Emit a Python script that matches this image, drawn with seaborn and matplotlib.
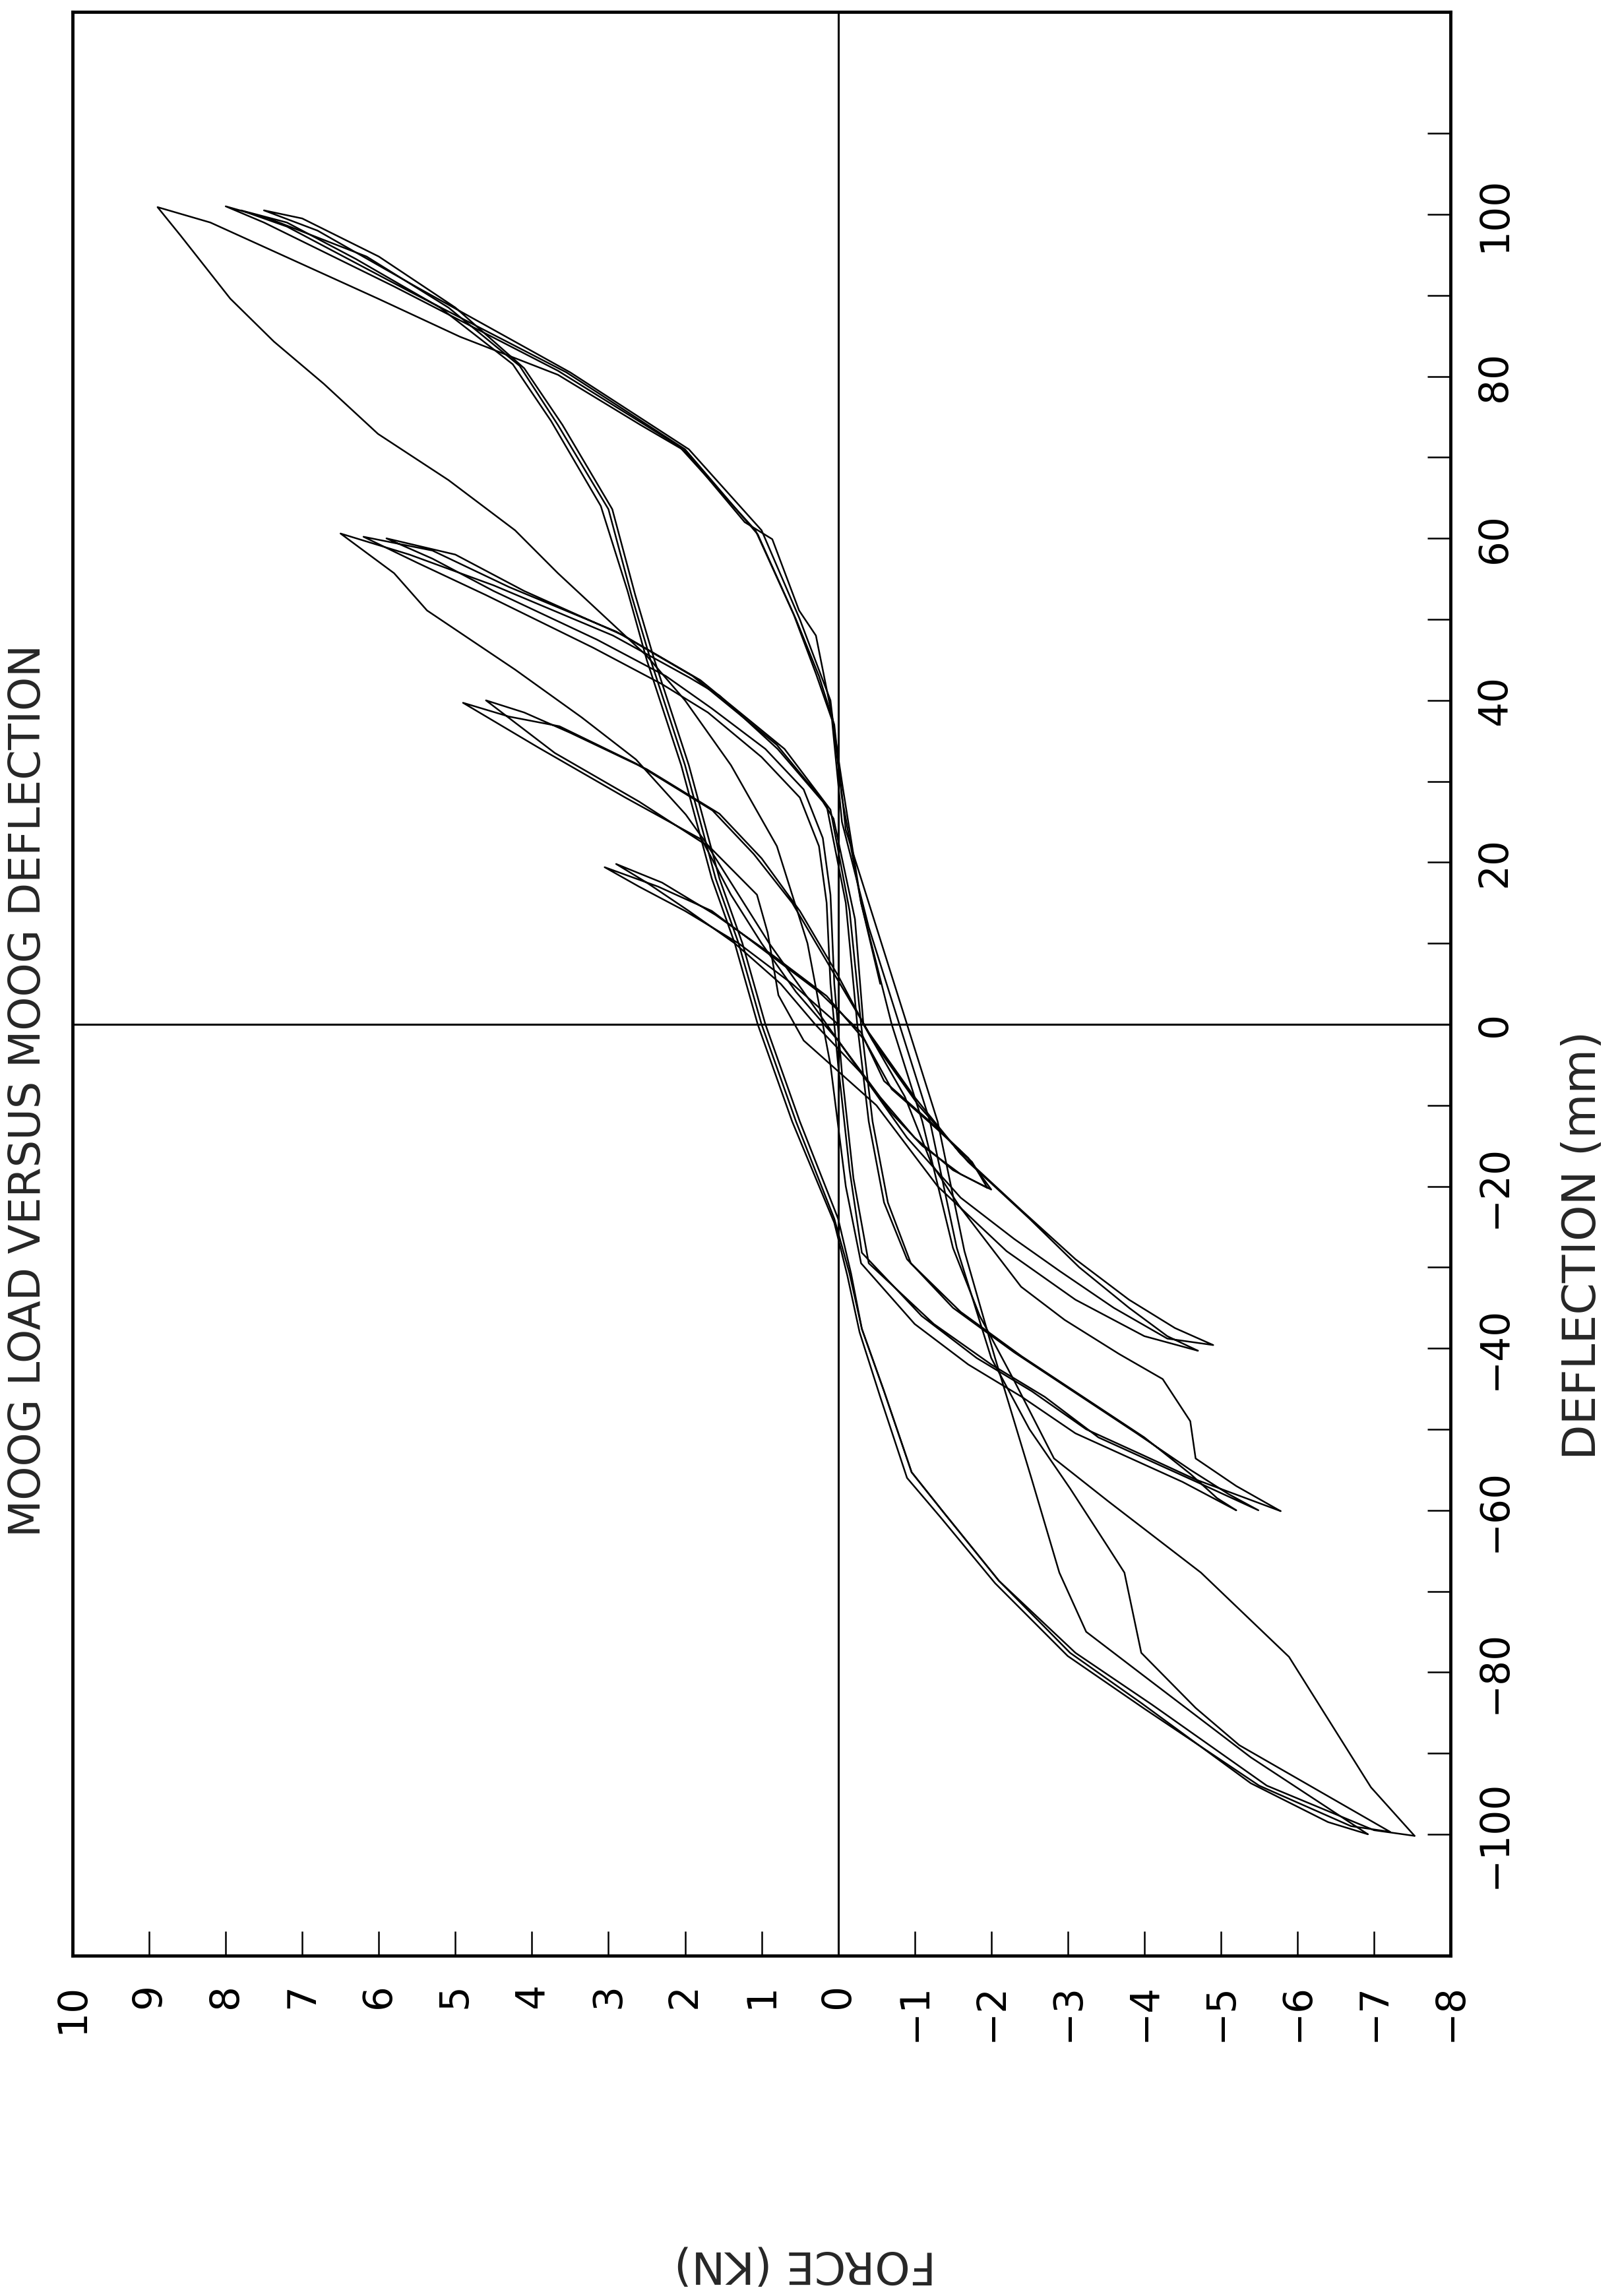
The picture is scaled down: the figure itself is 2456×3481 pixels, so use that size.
import pandas as pd
import matplotlib
import matplotlib.pyplot as plt
import seaborn as sns

matplotlib.use('Agg')

# Moog load vs deflection (deflection in mm, force in kN)
# +/-20 mm cycles
cyc20_defl = [0, 5, 10, 14, 17, 19.4, 17, 14, 9, 4, -1, -7, -12, -16.5, -20.4,
              -18.5, -15, -11, -6, 0, 5, 10, 14, 17.5, 19.8,
              17.5, 13.5, 8.5, 3.5, -2, -8, -13, -17, -20.2]
cyc20_force = [0.0, 0.6, 1.3, 2.0, 2.6, 3.05, 2.35, 1.65, 0.95, 0.25, -0.3, -0.6, -1.2, -1.7, -2.0,
               -1.6, -1.1, -0.7, -0.3, 0.3, 0.75, 1.35, 1.95, 2.5, 2.9,
               2.3, 1.6, 0.85, 0.15, -0.35, -0.7, -1.3, -1.75, -1.95]

# +/-40 mm cycles
cyc40_defl = [-20.2, -18, -14, -9, -2, 4, 10, 16, 22.8, 28, 34.2, 39.7,
              38, 36.8, 32.2, 26.4, 21, 15, 7, -1, -9, -16, -23, -29, -34, -37.5, -39.6,
              -38.8, -35, -30.5, -26.5, -21.4, -14, -6, 2, 10, 16, 22, 27.5, 33.5, 40.0,
              38.5, 36, 31.5, 26, 20.5, 14, 6, -2, -10, -17, -24, -30, -35, -38.5, -40.3]
cyc40_force = [-1.95, -1.5, -1.0, -0.55, 0.0, 0.55, 1.0, 1.4, 1.78, 2.78, 3.92, 4.9,
               4.3, 3.64, 2.64, 1.64, 1.1, 0.6, 0.1, -0.4, -1.0, -1.6, -2.4, -3.1, -3.8, -4.4, -4.9,
               -4.3, -3.6, -2.9, -2.3, -1.6, -0.9, -0.3, 0.3, 0.9, 1.3, 1.7, 2.6, 3.7, 4.6,
               4.1, 3.5, 2.5, 1.55, 1.0, 0.5, 0.0, -0.45, -1.05, -1.7, -2.5, -3.15, -3.8, -4.3, -4.7]

# first excursion to +/-60 mm
cyc60v_defl = [-40.3, -38.5, -34, -28, -20, -10, -2, 3.6, 11.3, 16, 22.2, 25.9, 32.7, 37.9,
               43.8, 51.1, 55.7, 60.6,
               58, 54.2, 48, 42.8, 40.6, 34, 27.5, 25.4, 13, 0, -8.9, -17.2, -22.4, -32.4,
               -36.5, -40.7, -43.8, -49, -53.6, -57, -60.1]
cyc60v_force = [-4.7, -4.0, -3.1, -2.2, -1.3, -0.5, 0.45, 0.78, 0.92, 1.06, 1.71, 1.99, 2.64, 3.35,
                4.22, 5.37, 5.8, 6.5,
                5.6, 4.5, 2.94, 1.94, 1.55, 0.79, 0.2, 0.06, -0.22, -0.33, -0.87, -1.22, -1.58, -2.39,
                -2.96, -3.67, -4.24, -4.6, -4.67, -5.2, -5.78]

# repeated +/-60 mm cycles
cyc60_defl = [-60.1, -56.2, -53.1, -50, -45.3, -41.2, -36, -28.2, -18, -5, 5, 15, 22, 28, 33,
              38.5, 42, 46.5, 53, 57, 60.2,
              58.5, 54, 48.5, 43, 34.5, 27, 15, 0, -12, -22, -29, -35, -40.5, -45.5, -50.5,
              -55, -58, -60,
              -57, -54, -51, -46, -42, -37, -29.5, -19, -6, 5, 16, 23, 29, 34, 39, 43, 47.5,
              53.5, 57.5, 60,
              58, 53.5, 48, 42.5, 34, 26.5, 14, 0, -12, -22, -29.5, -35.5, -41, -46, -51,
              -55.5, -58.5, -60]
cyc60_force = [-5.78, -4.67, -3.96, -3.24, -2.53, -1.81, -1.09, -0.31, -0.15, 0.0, 0.1, 0.15, 0.25,
               0.5, 1.0, 1.7, 2.3, 3.2, 4.6, 5.5, 6.2,
               5.3, 4.3, 2.9, 1.9, 0.8, 0.15, -0.1, -0.25, -0.4, -0.6, -0.9, -1.5, -2.3, -3.1, -3.9,
               -4.6, -5.1, -5.49,
               -4.8, -4.1, -3.4, -2.7, -2.0, -1.25, -0.4, -0.2, -0.05, 0.05, 0.1, 0.2, 0.45, 0.95,
               1.65, 2.25, 3.15, 4.5, 5.3, 5.9,
               5.0, 4.1, 2.8, 1.8, 0.7, 0.1, -0.15, -0.3, -0.45, -0.65, -0.95, -1.6, -2.4, -3.2,
               -4.0, -4.6, -4.95, -5.2]

# first excursion to +/-100 mm
cyc100v_defl = [-60, -56.5, -53.5, -50.5, -46, -42, -37, -29.5, -20, -5, 10, 22, 32, 40, 45.5,
                50.6, 55.7, 61, 67.2, 72.9, 79.1, 84.3, 89.6, 97.4, 100.9,
                99, 89.6, 84.9, 80.2, 74, 70.8, 62, 59.9, 51.1, 48, 38.1, 29.3, 15, 0, -12,
                -27.6, -36, -44, -53.6, -58.9, -67.7, -78.1, -94.2, -100.2]
cyc100v_force = [-5.2, -4.5, -3.8, -3.1, -2.4, -1.7, -1.0, -0.3, -0.1, 0.1, 0.4, 0.8, 1.4, 2.0, 2.5,
                 3.08, 3.66, 4.22, 5.09, 6.01, 6.72, 7.37, 7.94, 8.59, 8.89,
                 8.2, 6.01, 4.94, 3.66, 2.58, 2.0, 1.22, 0.86, 0.51, 0.29, 0.08, -0.06, -0.3, -0.7,
                 -1.1, -1.5, -1.85, -2.3, -2.82, -3.53, -4.74, -5.89, -6.96, -7.53]

# repeated +/-100 mm cycles
cyc100a_defl = [-100.2, -99.5, -94, -84, -77.6, -68.7, -60.4, -55.3, -45.3, -37.6, -30.8, -24, -12,
                0, 10, 18, 32, 45, 53, 63.6, 74, 81.3, 88.5, 94.8, 99.5, 101,
                99, 91.1, 80.7, 71.4, 61, 50.6, 43.3, 37.6, 25, 12, 0, -12, -27.6, -41.2, -50, -57.3,
                -64.6, -67.7, -77.6, -84.4, -89, -99.7]
cyc100a_force = [-7.53, -7.0, -5.6, -4.1, -3.1, -2.1, -1.39, -0.96, -0.6, -0.31, -0.15, 0.05, 0.55,
                 1.0, 1.3, 1.6, 2.0, 2.45, 2.7, 3.0, 3.66, 4.16, 5.09, 6.16, 7.44, 8.0,
                 7.5, 5.8, 3.66, 2.08, 1.08, 0.58, 0.29, 0.08, -0.05, -0.4, -0.8, -1.2, -1.55, -2.0, -2.5,
                 -3.03, -3.53, -3.74, -3.96, -4.67, -5.24, -7.21]

cyc100b_defl = [-99.7, -99, -94, -84.5, -78, -69, -61, -56, -46, -38, -31, -24.5, -12, 0, 10, 18,
                32, 45, 53.5, 64, 74.5, 81.5, 88.5, 94.5, 99, 100.5,
                98.5, 90.5, 80.5, 71, 60.5, 50, 43, 37, 24, 12, 0, -12, -28, -41.2, -56.2, -67.7,
                -75, -80.2, -90.5, -100]
cyc100b_force = [-7.21, -6.7, -5.5, -4.0, -3.0, -2.05, -1.35, -0.9, -0.55, -0.28, -0.12, 0.05, 0.6,
                 1.05, 1.35, 1.65, 2.05, 2.5, 2.75, 3.1, 3.75, 4.25, 5.2, 6.3, 7.2, 7.8,
                 7.2, 5.6, 3.55, 2.0, 1.05, 0.55, 0.25, 0.05, -0.1, -0.5, -0.9, -1.3, -1.65, -2.05,
                 -2.53, -2.89, -3.24, -3.96, -5.39, -6.92]

cyc100c_defl = [-100, -98.5, -93.7, -83.8, -77.6, -68.7, -60.4, -55.3, -45.3, -37.6, -30.8, -24,
                -12, 0, 10, 18, 32, 45, 53, 63.6, 74, 81, 88.5, 94.8, 99.5, 100.5,
                98, 91, 80.5, 71, 61, 50, 40, 28, 15, 5]
cyc100c_force = [-6.92, -6.4, -5.39, -3.96, -3.03, -2.1, -1.39, -0.96, -0.6, -0.31, -0.17, 0.0,
                 0.5, 0.95, 1.25, 1.55, 1.95, 2.4, 2.65, 2.95, 3.6, 4.1, 5.0, 6.0, 7.0, 7.5,
                 6.8, 5.5, 3.5, 1.95, 1.0, 0.5, 0.1, -0.05, -0.3, -0.55]

force_ticks = list(range(-8, 11))
defl_labelled = list(range(-100, 101, 20))
defl_minor = list(range(-90, 111, 20))

segments = {
    'cyc20': (cyc20_defl, cyc20_force),
    'cyc40': (cyc40_defl, cyc40_force),
    'cyc60v': (cyc60v_defl, cyc60v_force),
    'cyc60': (cyc60_defl, cyc60_force),
    'cyc100v': (cyc100v_defl, cyc100v_force),
    'cyc100a': (cyc100a_defl, cyc100a_force),
    'cyc100b': (cyc100b_defl, cyc100b_force),
    'cyc100c': (cyc100c_defl, cyc100c_force),
}
df = pd.concat(
    [pd.DataFrame({'defl': d, 'force': f, 'branch': name}) for name, (d, f) in segments.items()],
    ignore_index=True,
)


def tick_text(v):
    # plotter labels use a proper minus sign
    return str(v).replace('-', '\u2212')


sns.set_theme(style='white')
plt.rcParams['font.family'] = ['DejaVu Sans']

fig = plt.figure(figsize=(24.56, 34.81), dpi=100)
ax = fig.add_axes([0.0448, 0.1482, 0.8506, 0.8466])

# the page is turned: force runs right-to-left along the bottom, deflection upward
sns.lineplot(data=df, x='force', y='defl', units='branch', estimator=None, sort=False,
             color='black', linewidth=1.8, legend=False, ax=ax)
ax.axvline(0, color='black', lw=2.2)
ax.axhline(0, color='black', lw=2.2)

ax.set_xlim(10, -8)
ax.set_ylim(-115, 125)
ax.set_xlabel('')
ax.set_ylabel('')

ax.set_xticks(force_ticks)
ax.set_xticklabels([tick_text(v) for v in force_ticks])
ax.tick_params(axis='x', direction='in', length=27, width=1.8, pad=30, labelsize=43,
               labelrotation=90, bottom=True, top=False, colors='black')

ax.yaxis.tick_right()
ax.set_yticks(defl_labelled)
ax.set_yticklabels([tick_text(v) for v in defl_labelled])
ax.set_yticks(defl_minor, minor=True)
ax.tick_params(axis='y', which='both', direction='in', length=25, width=1.8,
               left=False, right=True, colors='black')
ax.tick_params(axis='y', which='major', pad=27, labelsize=43, labelrotation=90)
for lab in ax.get_yticklabels():
    lab.set_va('center')

for sp in ax.spines.values():
    sp.set_visible(True)
    sp.set_color('black')
    sp.set_linewidth(3.5)

fig.text(0.0175, 0.525, 'MOOG LOAD VERSUS MOOG DEFLECTION', rotation=90,
         ha='center', va='center', fontsize=47)
fig.text(0.977, 0.4576, 'DEFLECTION (mm)', rotation=90, ha='center', va='center', fontsize=50)
fig.text(0.497, 0.014, 'FORCE (KN)', rotation=180, ha='center', va='center', fontsize=49)

fig.savefig('out.png', dpi=100, facecolor='white')
plt.close(fig)
